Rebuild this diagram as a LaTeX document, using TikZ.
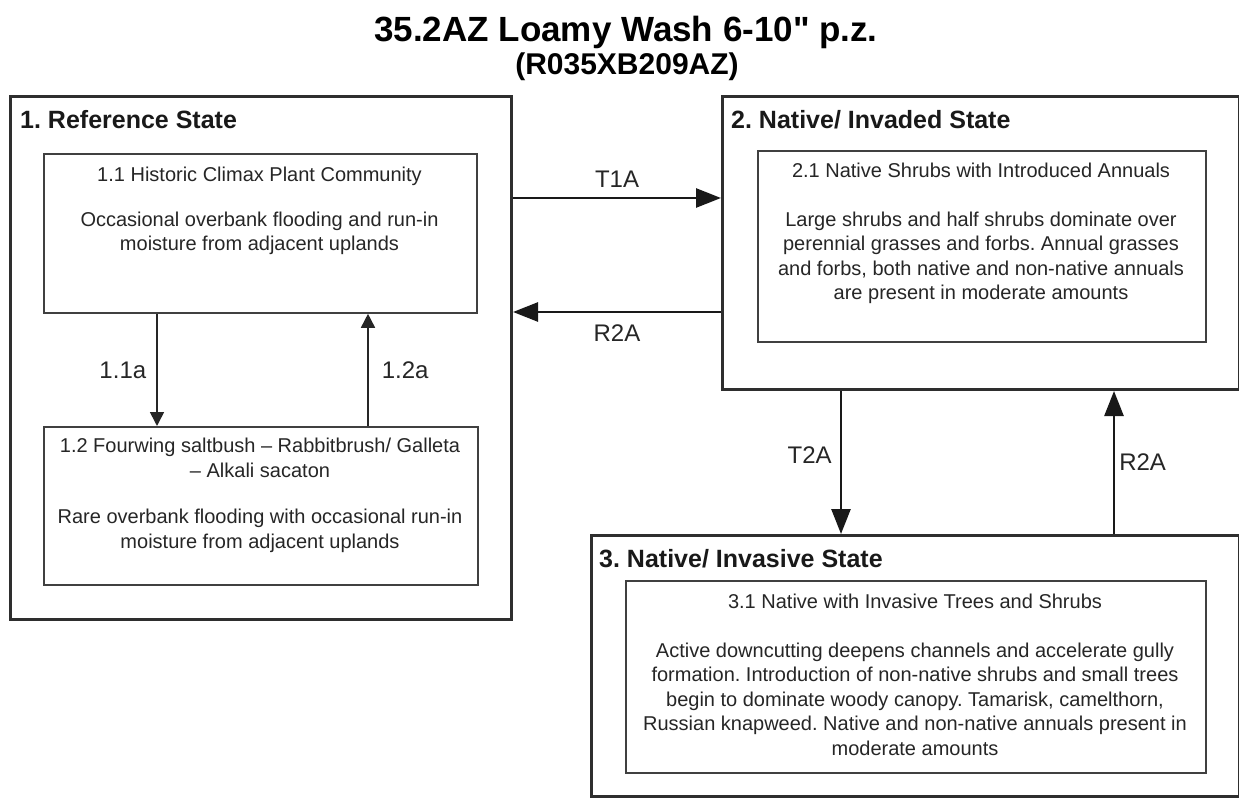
\documentclass[tikz,border=0pt]{standalone}
\usepackage{fontspec}
\setmainfont{Liberation Sans}[Ligatures=TeXOff]
\usetikzlibrary{arrows.meta,calc}
\frenchspacing
\begin{document}
\begin{tikzpicture}[x=1pt,y=-1pt,
  statebox/.style={draw=black!82, line width=3pt, inner sep=0pt, anchor=north west},
  phasebox/.style={draw=black!75, line width=1.8pt, inner sep=0pt, anchor=north west},
  phasetext/.style={anchor=north, align=center, inner sep=0pt, text=black!85,
    font=\fontsize{20}{24.5}\selectfont},
  headtext/.style={anchor=west, inner sep=0pt, text=black!90,
    font=\fontsize{25}{30}\selectfont\bfseries},
  lbl/.style={inner sep=0pt, text=black!85, font=\fontsize{24}{28}\selectfont},
  bigarrow/.style={draw=black!90, line width=2.6pt, -{Triangle[length=25pt,width=19pt]}},
  smallarrow/.style={draw=black!85, line width=1.6pt, -{Triangle[length=14pt,width=14pt]}}
]
\useasboundingbox[fill=white] (0,0) rectangle (1239,799);

% titles
\node[inner sep=0pt, font=\fontsize{35}{40}\selectfont\bfseries] (title) at (626,32) {35.2AZ Loamy Wash 6-10" p.z.};
\node[inner sep=0pt, font=\fontsize{30}{34}\selectfont\bfseries] (subtitle) at (627,67) {(R035XB209AZ)};

% state 1
\node[statebox, minimum width=501pt, minimum height=523pt] (s1) at (9,95) {};
\node[headtext] (h1) at (20,120) {1. Reference State};
\node[phasebox, minimum width=433pt, minimum height=159pt] (i11) at (43,153) {};
\node[phasetext] (t11) at (259.5,167) {1.1 Historic Climax Plant Community\\[20pt]Occasional overbank flooding and run-in\\moisture from adjacent uplands};
\node[phasebox, minimum width=434pt, minimum height=158pt] (i12) at (43,426) {};
\node[phasetext] (t12) at (260,438) {1.2 Fourwing saltbush – Rabbitbrush/ Galleta\\– Alkali sacaton\\[22pt]Rare overbank flooding with occasional run-in\\moisture from adjacent uplands};

% state 2
\node[statebox, minimum width=517pt, minimum height=293pt] (s2) at (721,95) {};
\node[headtext] (h2) at (731,120) {2. Native/ Invaded State};
\node[phasebox, minimum width=448pt, minimum height=191pt] (i21) at (757,150) {};
\node[phasetext] (t21) at (981,163) {2.1 Native Shrubs with Introduced Annuals\\[24pt]Large shrubs and half shrubs dominate over\\perennial grasses and forbs. Annual grasses\\and forbs, both native and non-native annuals\\are present in moderate amounts};

% state 3
\node[statebox, minimum width=648pt, minimum height=261pt] (s3) at (590,534) {};
\node[headtext] (h3) at (599,559) {3. Native/ Invasive State};
\node[phasebox, minimum width=580pt, minimum height=192pt] (i31) at (625,580) {};
\node[phasetext] (t31) at (915,594) {3.1 Native with Invasive Trees and Shrubs\\[24pt]Active downcutting deepens channels and accelerate gully\\formation. Introduction of non-native shrubs and small trees\\begin to dominate woody canopy. Tamarisk, camelthorn,\\Russian knapweed. Native and non-native annuals present in\\moderate amounts};

% connectors within state 1
\draw[smallarrow] (i11.south -| 157,0) -- (i12.north -| 157,0) node[lbl, midway, left=10pt] {1.1a};
\draw[smallarrow] (i12.north -| 368,0) -- (i11.south -| 368,0) node[lbl, midway, right=13pt] {1.2a};

% connectors between states
\draw[bigarrow] (s1.east |- 0,198) -- (s2.west |- 0,198) node[lbl, midway, above=9pt] {T1A};
\draw[bigarrow] (s2.west |- 0,312) -- (s1.east |- 0,312) node[lbl, midway, below=11pt] {R2A};
\draw[bigarrow] (s2.south -| 841,0) -- (s3.north -| 841,0) node[lbl, pos=0.45, left=8pt] {T2A};
\draw[bigarrow] (s3.north -| 1114,0) -- (s2.south -| 1114,0) node[lbl, pos=0.5, right=4pt] {R2A};
\end{tikzpicture}
\end{document}
